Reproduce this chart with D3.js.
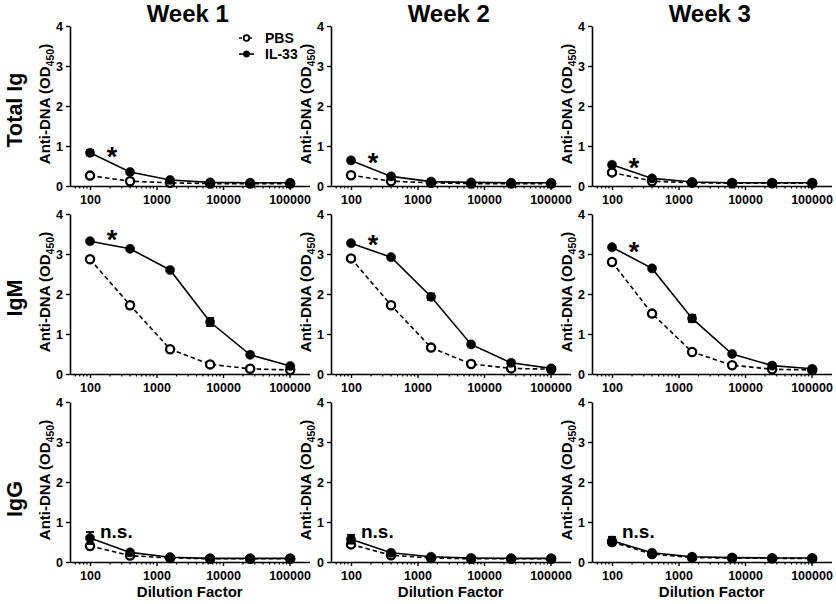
<!DOCTYPE html>
<html>
<head>
<meta charset="utf-8">
<script src="https://cdn.jsdelivr.net/npm/d3@7"></script>
<style>
  html, body { margin: 0; padding: 0; background: #fff; }
  svg { display: block; font-family: "Liberation Sans", Arial, sans-serif; font-weight: bold; }
</style>
</head>
<body>
<svg id="chart" width="836" height="604"></svg>
<script>
// ---------------- DATA ----------------
const dilutions = [100, 400, 1600, 6400, 25600, 102400];
const weeks = ["Week 1", "Week 2", "Week 3"];
const isotypes = ["Total Ig", "IgM", "IgG"];
const seriesNames = ["PBS", "IL-33"];
const xTickValues = [100, 1000, 10000, 100000];
const xTickLabels = ["100", "1000", "10000", "100000"];
const yTickValues = [0, 1, 2, 3, 4];

// values[week] for each isotype
const pbsTotalIg  = [[0.26, 0.12, 0.08, 0.06, 0.06, 0.06],
                     [0.27, 0.12, 0.08, 0.06, 0.06, 0.06],
                     [0.34, 0.12, 0.08, 0.07, 0.07, 0.07]];
const il33TotalIg = [[0.83, 0.35, 0.15, 0.09, 0.08, 0.08],
                     [0.64, 0.24, 0.11, 0.09, 0.08, 0.08],
                     [0.53, 0.19, 0.10, 0.08, 0.08, 0.08]];
const pbsIgM      = [[2.87, 1.72, 0.62, 0.24, 0.13, 0.10],
                     [2.89, 1.72, 0.66, 0.25, 0.14, 0.12],
                     [2.80, 1.51, 0.55, 0.22, 0.12, 0.10]];
const il33IgM     = [[3.32, 3.13, 2.60, 1.30, 0.48, 0.20],
                     [3.27, 2.92, 1.93, 0.74, 0.28, 0.14],
                     [3.17, 2.64, 1.39, 0.50, 0.21, 0.13]];
const pbsIgG      = [[0.40, 0.16, 0.10, 0.08, 0.08, 0.08],
                     [0.44, 0.17, 0.10, 0.08, 0.08, 0.08],
                     [0.50, 0.20, 0.11, 0.10, 0.09, 0.09]];
const il33IgG     = [[0.60, 0.24, 0.12, 0.09, 0.09, 0.09],
                     [0.57, 0.23, 0.13, 0.10, 0.09, 0.09],
                     [0.53, 0.23, 0.13, 0.11, 0.10, 0.10]];

// SEM
const pbsTotalIgErr  = [[0.02,0,0,0,0,0],[0.02,0,0,0,0,0],[0.03,0,0,0,0,0]];
const il33TotalIgErr = [[0.07,0.02,0,0,0,0],[0.02,0.02,0,0,0,0],[0.02,0.02,0,0,0,0]];
const pbsIgMErr      = [[0.03,0.08,0.03,0.02,0,0],[0.03,0.06,0.03,0.02,0,0],[0.03,0.04,0.03,0.02,0,0]];
const il33IgMErr     = [[0.02,0.02,0.02,0.10,0.02,0],[0.03,0.03,0.08,0.03,0.02,0],[0.02,0.02,0.09,0.02,0.02,0]];
const pbsIgGErr      = [[0.04,0.03,0,0,0,0],[0.04,0.03,0,0,0,0],[0.06,0.02,0,0,0,0]];
const il33IgGErr     = [[0.15,0.03,0,0,0,0],[0.11,0.03,0,0,0,0],[0.10,0.03,0,0,0,0]];

// significance annotations per isotype row, per week
const sigLabels = ["*", "*", "n.s."];
const starX = 215;               // dilution position of "*" centre
const starY = [[0.88, 0.72, 0.60], [3.50, 3.37, 3.20]];
const nsX = 141;                 // dilution position of "n.s." start
const nsY = [0.60, 0.60, 0.60];

// ---------------- LAYOUT ----------------
const W = 836, H = 604;
const colLeft = [70, 331, 592];
const rowTop = [26, 214, 402];
const plotH = 160;
const decadePx = 66.5;
const xDomain = [50, 200000];
const plotW = (Math.log10(xDomain[1]) - Math.log10(xDomain[0])) * decadePx;
const rowLabelCY = [110, 298, 499];

const svg = d3.select("#chart");
svg.append("rect").attr("width", W).attr("height", H).attr("fill", "#fff");

const table = [
  { pbs: pbsTotalIg, il33: il33TotalIg, pbsErr: pbsTotalIgErr, il33Err: il33TotalIgErr },
  { pbs: pbsIgM, il33: il33IgM, pbsErr: pbsIgMErr, il33Err: il33IgMErr },
  { pbs: pbsIgG, il33: il33IgG, pbsErr: pbsIgGErr, il33Err: il33IgGErr }
];

// minor ticks
const minorTicks = [];
for (let e = 1; e <= 5; e++) {
  for (let m = 2; m <= 9; m++) {
    const v = m * Math.pow(10, e);
    if (v > xDomain[0] && v < xDomain[1]) minorTicks.push(v);
  }
}

weeks.forEach((wk, c) => {
  svg.append("text")
    .attr("x", colLeft[c] + plotW / 2 - 2)
    .attr("y", 22)
    .attr("text-anchor", "middle")
    .attr("font-size", 24)
    .text(wk);
});

isotypes.forEach((iso, r) => {
  // row label
  svg.append("text")
    .attr("transform", `translate(22,${rowLabelCY[r]}) rotate(-90)`)
    .attr("text-anchor", "middle")
    .attr("font-size", 21.5)
    .text(iso);

  weeks.forEach((wk, c) => {
    const x = d3.scaleLog().domain(xDomain).range([0, plotW]);
    const y = d3.scaleLinear().domain([0, 4]).range([plotH, 0]);
    const g = svg.append("g").attr("transform", `translate(${colLeft[c]},${rowTop[r]})`);

    // y axis title
    const yt = g.append("text")
      .attr("transform", `translate(-20,${plotH / 2 - 2}) rotate(-90)`)
      .attr("text-anchor", "middle")
      .attr("font-size", 15);
    yt.append("tspan").text("Anti-DNA (OD");
    yt.append("tspan").attr("font-size", 10.5).attr("dy", 4).text("450");
    yt.append("tspan").attr("dy", -4).text(")");

    // axes
    const yAxis = g.append("g")
      .call(d3.axisLeft(y).tickValues(yTickValues).tickFormat(d3.format("d")).tickSize(4).tickSizeOuter(0).tickPadding(3));
    const xAxis = g.append("g").attr("transform", `translate(0,${plotH})`)
      .call(d3.axisBottom(x).tickValues(xTickValues).tickFormat((d, i) => xTickLabels[i]).tickSize(4).tickSizeOuter(0).tickPadding(5));
    [yAxis, xAxis].forEach(a => {
      a.attr("font-size", null).attr("font-family", null);
      a.select(".domain").attr("stroke", "#000").attr("stroke-width", 1.6);
      a.selectAll(".tick line").attr("stroke", "#000").attr("stroke-width", 1.4);
      a.selectAll(".tick text").style("font-size", "12.5px").style("font-weight", "bold").attr("fill", "#000");
    });
    xAxis.selectAll(".minor").data(minorTicks).enter().append("line")
      .attr("class", "minor")
      .attr("x1", d => x(d)).attr("x2", d => x(d))
      .attr("y1", 0).attr("y2", 2.5)
      .attr("stroke", "#000").attr("stroke-width", 1.2);

    if (r === 2) {
      g.append("text")
        .attr("x", plotW / 2)
        .attr("y", plotH + 35)
        .attr("text-anchor", "middle")
        .attr("font-size", 15)
        .text("Dilution Factor");
    }

    const d = table[r];
    const series = [
      { name: "PBS", vals: d.pbs[c], err: d.pbsErr[c], dash: "4.5,3", fill: "#fff" },
      { name: "IL-33", vals: d.il33[c], err: d.il33Err[c], dash: null, fill: "#000" }
    ];
    const line = d3.line().x(p => x(p.x)).y(p => y(p.y));
    series.forEach(s => {
      const pts = dilutions.map((dl, i) => ({ x: dl, y: s.vals[i], e: s.err[i] }));
      g.append("path").datum(pts)
        .attr("d", line)
        .attr("fill", "none")
        .attr("stroke", "#000")
        .attr("stroke-width", 1.6)
        .attr("stroke-dasharray", s.dash);
      const eg = g.append("g");
      pts.filter(p => p.e > 0.03).forEach(p => {
        eg.append("line").attr("x1", x(p.x)).attr("x2", x(p.x))
          .attr("y1", y(p.y - p.e)).attr("y2", y(p.y + p.e))
          .attr("stroke", "#000").attr("stroke-width", 1.6);
        [p.y - p.e, p.y + p.e].forEach(v => {
          eg.append("line").attr("x1", x(p.x) - 4).attr("x2", x(p.x) + 4)
            .attr("y1", y(v)).attr("y2", y(v))
            .attr("stroke", "#000").attr("stroke-width", 1.8);
        });
      });
      g.selectAll(null).data(pts).enter().append("circle")
        .attr("cx", p => x(p.x)).attr("cy", p => y(p.y))
        .attr("r", s.name === "PBS" ? 4.1 : 4.6)
        .attr("fill", s.fill)
        .attr("stroke", "#000")
        .attr("stroke-width", s.name === "PBS" ? 2.3 : 0.5);
    });

    // significance labels
    if (r < 2) {
      g.append("text")
        .attr("x", x(starX))
        .attr("y", y(starY[r][c]) + 15)
        .attr("text-anchor", "middle")
        .attr("font-size", 27)
        .text(sigLabels[r]);
    } else {
      g.append("text")
        .attr("x", x(nsX))
        .attr("y", y(nsY[c]))
        .attr("text-anchor", "start")
        .attr("font-size", 19)
        .text(sigLabels[r]);
    }

    // legend in first panel
    if (r === 0 && c === 0) {
      const lg = svg.append("g");
      const items = [
        { name: seriesNames[0], dash: "3,2", fill: "#fff", sw: 1.8, rr: 2.8 },
        { name: seriesNames[1], dash: null, fill: "#000", sw: 0.5, rr: 3.2 }
      ];
      items.forEach((it, i) => {
        const yy = 38 + i * 16;
        lg.append("line").attr("x1", 239).attr("x2", 254).attr("y1", yy).attr("y2", yy)
          .attr("stroke", "#000").attr("stroke-width", 1.6).attr("stroke-dasharray", it.dash);
        lg.append("circle").attr("cx", 246.5).attr("cy", yy).attr("r", it.rr)
          .attr("fill", it.fill).attr("stroke", "#000").attr("stroke-width", it.sw);
        lg.append("text").attr("x", 265).attr("y", yy + 5).attr("font-size", 14).text(it.name);
      });
    }
  });
});
</script>
</body>
</html>
